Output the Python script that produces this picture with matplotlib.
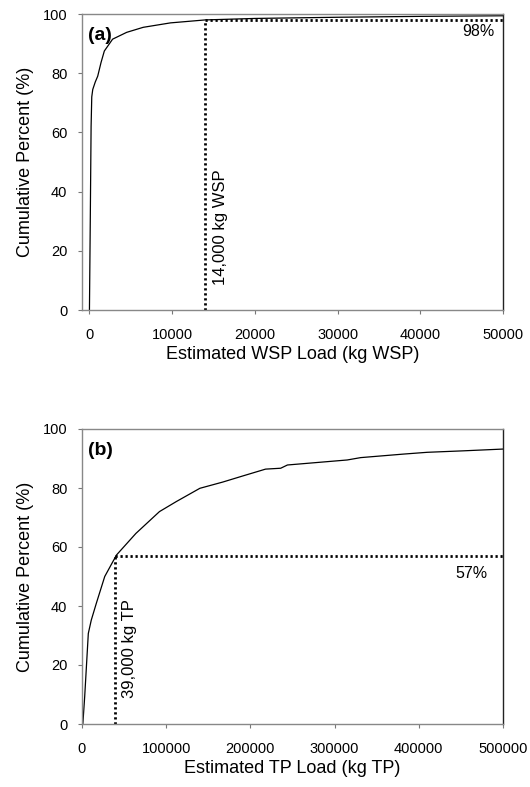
import matplotlib.pyplot as plt

plt.rcParams['font.family'] = ['Liberation Sans', 'DejaVu Sans']

# (a) WSP load cumulative curve
wsp_load = [0, 100, 200, 280, 400, 700, 1000, 1400, 1800, 2800, 4500, 6500,
            9800, 14000, 20000, 30000, 40000, 50000]
wsp_pct = [0, 30, 62, 72, 74.5, 77, 79, 83.6, 87.5, 91.5, 93.8, 95.5,
           97, 98, 98.5, 98.9, 99.2, 99.4]
wsp_cut = 14000
wsp_cut_pct = 98

# (b) TP load cumulative curve
tp_load = [0, 1000, 3200, 7500, 11000, 17000, 27000, 41000, 64000, 92000,
           112000, 140000, 167000, 190000, 218000, 236000, 244000, 315000,
           331000, 382000, 410000, 453000, 500000]
tp_pct = [0, 0, 9.3, 30.7, 35.2, 40.9, 50, 57.3, 64.6, 72, 75.4, 79.9, 82,
          84, 86.4, 86.7, 87.8, 89.5, 90.3, 91.5, 92.1, 92.6, 93.2]
tp_cut = 39000
tp_cut_pct = 57

fig = plt.figure(figsize=(5.3, 7.87), dpi=100)
ax1 = fig.add_axes([82 / 530, 1 - 310 / 787, 421 / 530, 296 / 787])
ax2 = fig.add_axes([82 / 530, 1 - 724 / 787, 421 / 530, 295 / 787])

def style(ax):
    for s in ax.spines.values():
        s.set_color('#888888')
        s.set_linewidth(1.0)
    ax.spines['right'].set_color('#222222')
    ax.tick_params(labelsize=10.5, length=3, color='#777777')
    ax.tick_params(axis='x', pad=10)
    ax.tick_params(axis='y', pad=7.5)
    ax.set_ylim(0, 100)
    ax.set_yticks([0, 20, 40, 60, 80, 100])
    ax.set_ylabel('Cumulative Percent (%)', fontsize=13, labelpad=6)

dots = dict(color='black', ls=(0, (0.8, 1.0)), lw=2)

# panel (a)
ax1.plot(wsp_load, wsp_pct, color='black', lw=0.9)
ax1.plot([wsp_cut, wsp_cut], [0, wsp_cut_pct], **dots)
ax1.plot([wsp_cut, 50000], [wsp_cut_pct, wsp_cut_pct], **dots)
ax1.set_xlim(-900, 50000)
ax1.set_xticks([0, 10000, 20000, 30000, 40000, 50000])
ax1.set_xlabel('Estimated WSP Load (kg WSP)', fontsize=13, labelpad=3)
style(ax1)
ax1.text(0.014, 0.955, '(a)', transform=ax1.transAxes, fontsize=14,
         fontweight='bold', va='top', ha='left')
ax1.text(49000, 94, '98%', fontsize=11.5, ha='right', va='center')
ax1.text(wsp_cut + 1900, 8.5, '14,000 kg WSP', rotation=90, fontsize=12,
         ha='center', va='bottom')

# panel (b)
ax2.plot(tp_load, tp_pct, color='black', lw=0.9)
ax2.plot([tp_cut, tp_cut], [0, tp_cut_pct], **dots)
ax2.plot([tp_cut, 500000], [tp_cut_pct, tp_cut_pct], **dots)
ax2.set_xlim(0, 500000)
ax2.set_xticks([0, 100000, 200000, 300000, 400000, 500000])
ax2.set_xlabel('Estimated TP Load (kg TP)', fontsize=13, labelpad=3)
style(ax2)
ax2.text(0.014, 0.955, '(b)', transform=ax2.transAxes, fontsize=14,
         fontweight='bold', va='top', ha='left')
ax2.text(481000, 51, '57%', fontsize=11.5, ha='right', va='center')
ax2.text(tp_cut + 18000, 8.8, '39,000 kg TP', rotation=90, fontsize=12,
         ha='center', va='bottom')

fig.savefig('out.png', dpi=100)
